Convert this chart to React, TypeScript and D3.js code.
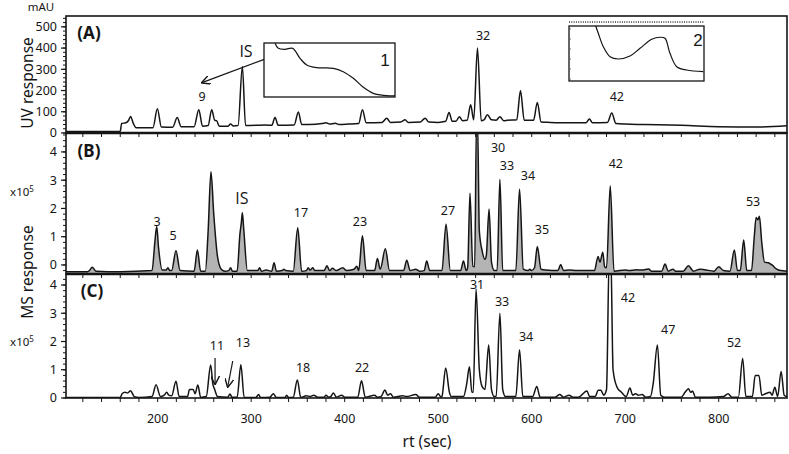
import React from 'react';
import * as d3 from 'd3';

const W = 789;
const H = 454;
const FONT = "'Noto Sans', 'DejaVu Sans', sans-serif";
const IS_FONT = "'Open Sans', 'DejaVu Sans', sans-serif";

type Pt = [number, number];

// retention time axis
const rtDomain: Pt = [102, 873];
const rtLabels = [200, 300, 400, 500, 600, 700, 800];

const uvTicks = [0, 100, 200, 300, 400, 500];
const msTicks = [0, 1, 2, 3, 4];

// (A) UV trace, mAU
const uvTrace: Pt[] = [
  [102, 7], [160, 8], [161.5, 45], [166, 48], [169, 60], [171, 78], [174, 45], [177, 25], [195, 25],
  [199.7, 114], [204, 28], [216, 27], [221, 73], [225, 30], [239, 30], [244, 110], [248, 32],
  [254, 35], [257.8, 110], [261, 60], [263, 58], [266, 32], [275, 32], [278, 42], [281, 33],
  [286, 35], [290.6, 313], [294, 35], [305, 36], [315, 38], [322, 36], [325.5, 73], [329, 36],
  [346, 38], [350.5, 99], [354, 40], [362, 40], [376, 45], [380, 48], [384, 42], [390, 46], [394, 40],
  [404, 42], [415, 45], [419, 110], [423, 48], [440, 50], [445, 70], [449, 50], [460, 52],
  [464.6, 62], [468, 50], [481, 52], [486, 70], [490, 52], [500, 50], [508, 55], [511.6, 97],
  [515, 55], [519, 55], [522.6, 77], [526, 58], [531, 60], [534.7, 133], [538, 62], [542, 400],
  [546, 58], [549, 62], [552.6, 86], [557, 62], [562, 60], [566, 77], [570, 58], [574, 60],
  [584, 62], [588, 200], [592, 60], [602, 60], [606, 144], [610, 52], [620, 50], [640, 48],
  [658, 48], [661.7, 66], [665, 48], [681, 50], [685.6, 94], [690, 45], [700, 42], [720, 40],
  [760, 36], [800, 30], [840, 28], [873, 34],
];

// (B) MS trace, x10^5
const msBTrace: Pt[] = [
  [102, -0.24], [125, -0.24], [127, -0.2], [130, -0.08], [134, -0.22], [160, -0.24],
  [194, -0.2], [197, 0.8], [199, 1.36], [201, 0.6], [205, -0.18], [209, -0.18], [211, -0.1],
  [213, -0.2], [215, -0.2], [219.6, 0.5], [224, -0.2], [239, -0.22], [242.5, 0.53], [246, -0.22],
  [251, -0.22], [254, 1.2], [257, 3.3], [260, 1.8], [264, 0.3], [268, -0.15], [272, -0.22],
  [276, -0.2], [278, -0.1], [280, -0.22], [285, -0.22], [288, 1.1], [289.5, 1.5], [290.6, 1.85],
  [292, 1.3], [296, -0.2], [307, -0.2], [309, -0.1], [311, -0.22], [316, -0.18], [322, -0.22],
  [324.5, 0.08], [327, -0.22], [333, -0.2], [335, -0.15], [337, -0.2], [345, -0.22], [349.8, 1.32],
  [354, -0.22], [359, -0.2], [361, -0.1], [363, -0.18], [366, -0.1], [368, -0.2], [378, -0.2],
  [381, -0.03], [384, -0.2], [387, -0.12], [391, -0.2], [398, -0.1], [402, -0.2], [410, -0.15],
  [413, -0.05], [415, -0.2], [419, 1.03], [423, -0.2], [432, -0.2], [435, 0.23], [438, -0.15],
  [443.5, 0.57], [448, -0.2], [463, -0.2], [466.4, 0.17], [470, -0.2], [476, -0.15], [480, -0.22],
  [485, -0.2], [487.7, 0.14], [491, -0.2], [504, -0.2], [508.4, 1.44], [513, -0.2], [524, -0.2],
  [527, 0.14], [530, -0.2], [531.5, -0.1], [534, 2.54], [537, -0.05], [539, -0.06], [541, 5.2],
  [542, 5.2], [544, 1.2], [547, 0.5], [550, 0.2], [551.5, 0.35], [554.4, 1.98], [557, 0.1],
  [560, -0.2], [563, -0.2], [566, 3.03], [569, -0.2], [583, -0.2], [587, 2.69], [591, -0.15],
  [596, -0.2], [598, -0.15], [600, -0.2], [603, -0.1], [606, 0.65], [610, -0.15], [615, -0.18],
  [628, -0.2], [631, 0.02], [634, -0.2], [640, -0.18], [648, -0.2], [667, -0.2], [671, 0.3],
  [673, 0.1], [676, 0.45], [678, -0.06], [680, -0.1], [684, 2.8], [688, -0.22], [700, -0.18],
  [704, -0.2], [712, -0.17], [718, -0.18], [725, -0.14], [728, -0.22], [739, -0.22],
  [742.6, 0.03], [746, -0.22], [751, -0.15], [754, -0.22], [762, -0.22], [767.6, -0.03],
  [773, -0.22], [780, -0.15], [785, -0.17], [795, -0.22], [800, -0.06], [805, -0.2], [812, -0.22],
  [816.7, 0.53], [820, -0.2], [823, -0.2], [826.7, 0.88], [830, -0.2], [835, -0.2], [838, 1.0],
  [840, 1.68], [842, 1.6], [843.5, 1.72], [846, 0.8], [849, 0.1], [853, 0.08], [857, 0],
  [862, -0.15], [866, -0.2], [873, -0.22],
];

// (C) MS trace, x10^5
const msCTrace: Pt[] = [
  [102, 0.02], [160, 0.02], [162, 0.15], [165, 0.2], [168, 0.18], [171, 0.26], [175, 0.05],
  [180, 0.02], [194, 0.05], [198.3, 0.47], [203, 0.05], [207, 0.1], [209.7, 0.2], [212, 0.1],
  [215, 0.08], [219.6, 0.59], [223, 0.05], [232, 0.05], [234, 0.3], [238, 0.3], [240, 0.15],
  [243, 0.46], [246, 0.02], [252, 0.05], [256.7, 1.17], [259, 0.5], [261, 0.3], [264, 0.05],
  [275, 0.03], [277.4, 0.14], [279.5, 0.03], [285, 0.03], [289, 1.18], [292.5, 0.02], [305, 0.02],
  [308, 0.12], [310, 0.02], [320, 0.03], [323.7, 0.15], [327, 0.02], [336, 0.02], [338, 0.1],
  [340, 0.02], [345, 0.03], [349.4, 0.64], [353, 0.02], [359, 0.08], [363, 0.05], [367, 0.1],
  [371, 0.03], [378, 0.03], [380, 0.1], [383, 0.03], [385, 0.05], [388, 0.18], [391, 0.03],
  [397, 0.1], [400, 0.03], [414, 0.03], [418, 0.61], [422, 0.03], [432, 0.1], [435, 0.03],
  [439, 0.05], [443, 0.28], [446, 0.1], [449, 0.15], [452, 0.03], [462, 0.08], [466, 0.05],
  [476, 0.12], [480, 0.03], [497, 0.03], [500, 0.15], [503, 0.03], [504, 0.05], [508, 1.06],
  [512, 0.2], [514, 0.05], [527, 0.05], [530.5, 0.5], [533.4, 1.11], [536, 0.2], [537.5, 0.2],
  [540.5, 3.86], [544, 1.0], [547, 0.4], [550, 0.3], [554, 1.88], [557, 0.3], [560, 0.05],
  [562, 0.05], [566, 3.0], [569, 0.3], [572, 0.05], [583, 0.05], [587, 1.71], [590.5, 0.05],
  [601, 0.05], [605.4, 0.41], [609, 0.03], [625, 0.03], [630, 0.12], [634, 0.03], [640, 0.1],
  [644, 0.03], [650, 0.03], [659, 0.25], [662, 0.05], [668, 0.05], [671, 0.27], [674, 0.27],
  [677, 0.1], [680, 0.3], [683, 5.2], [684.5, 5.2], [687, 1.0], [691, 0.4], [696, 0.2],
  [701, 0.05], [705, 0.35], [708, 0.1], [711, 0.15], [714, 0.1], [718, 0.12], [722, 0.03],
  [727, 0.05], [730, 0.53], [734.4, 1.88], [738, 0.1], [742, 0.03], [760, 0.03], [764, 0.2],
  [767.6, 0.33], [770, 0.2], [772, 0.25], [775, 0.03], [790, 0.03], [805, 0.05], [810, 0.15],
  [814, 0.03], [821, 0.03], [825.6, 1.4], [829, 0.05], [836, 0.05], [839, 0.8], [843, 0.8],
  [846, 0.1], [850, 0.15], [855, 0.2], [857, 0.1], [860, 0.38], [863, 0.05], [866.7, 0.94],
  [870, 0.1], [873, 0.05],
];

// peak labels: [text, rt, value]
const uvLabels: [string, number, number][] = [
  ['9', 247.5, 171], ['32', 548, 458], ['42', 691, 171],
];
const msBLabels: [string, number, number][] = [
  ['3', 199.3, 1.52], ['5', 216.4, 1.03], ['17', 353.3, 1.84], ['23', 416.4, 1.52],
  ['27', 510.5, 1.91], ['30', 564, 4.14], ['33', 573.6, 3.5], ['34', 596, 3.15],
  ['35', 611, 1.24], ['42', 690, 3.58], ['53', 836.7, 2.23],
];
const msCLabels: [string, number, number][] = [
  ['11', 263.5, 1.84], ['13', 291.3, 1.95], ['18', 355.5, 1.06], ['22', 418.6, 1.06],
  ['31', 541.6, 4.0], ['33', 568.3, 3.4], ['34', 594, 2.16], ['42', 703, 3.54],
  ['47', 746, 2.41], ['52', 816.4, 1.95],
];

// UV spectra in the insets, normalised [wavelength fraction, absorbance fraction]
const spectrum1: Pt[] = [
  [0.084, 0.994], [0.109, 0.901], [0.16, 0.883], [0.219, 0.901], [0.275, 0.716], [0.326, 0.593],
  [0.402, 0.543], [0.529, 0.531], [0.605, 0.469], [0.682, 0.346], [0.758, 0.18], [0.834, 0.068],
  [0.937, 0.024], [1.0, 0.02],
];
const spectrum2: Pt[] = [
  [0.198, 1.0], [0.217, 0.867], [0.254, 0.624], [0.304, 0.442], [0.365, 0.4], [0.452, 0.455],
  [0.526, 0.594], [0.613, 0.758], [0.674, 0.795], [0.711, 0.776], [0.748, 0.503], [0.798, 0.26],
  [0.872, 0.2], [0.995, 0.169],
];

const L = 66, R = 787;

export default function App() {
  const x = d3.scaleLinear().domain(rtDomain).range([L, R]);
  const yA = d3.scaleLinear().domain([0, 551]).range([133, 16]);
  const yB = d3.scaleLinear().domain([-0.32, 4.67]).range([274, 133]);
  const yC = d3.scaleLinear().domain([0, 4.39]).range([398, 274]);

  const minorX = d3.range(120, 873, 20);

  const panels = [
    { id: 'A', y: yA, top: 16, bottom: 133, ticks: uvTicks, minor: d3.range(0, 551, 20), data: uvTrace, labels: uvLabels, fill: false },
    { id: 'B', y: yB, top: 133, bottom: 274, ticks: msTicks, minor: d3.range(-0.2, 4.67, 0.2), data: msBTrace, labels: msBLabels, fill: true },
    { id: 'C', y: yC, top: 274, bottom: 398, ticks: msTicks, minor: d3.range(0, 4.39, 0.2), data: msCTrace, labels: msCLabels, fill: false },
  ];

  const inset1 = { x0: 264, x1: 395, y0: 43, y1: 97 };
  const inset2 = { x0: 569, x1: 704, y0: 26, y1: 81 };
  const insetPath = (b: typeof inset1, s: Pt[]) => {
    const sx = d3.scaleLinear().domain([0, 1]).range([b.x0, b.x1]);
    const sy = d3.scaleLinear().domain([0, 1]).range([b.y1, b.y0]);
    return d3.line<Pt>().x(d => sx(d[0])).y(d => sy(d[1])).curve(d3.curveCatmullRom)(s) || '';
  };

  const ink = '#151515';

  return (
    <svg width={W} height={H} style={{ position: 'absolute', left: 0, top: 0, background: '#fff' }} fontFamily={FONT}>
      <defs>
        {panels.map(p => (
          <clipPath id={'clip' + p.id} key={p.id}>
            <rect x={L} y={p.top} width={R - L} height={p.bottom - p.top} />
          </clipPath>
        ))}
        <marker id="arrow" viewBox="0 0 10 10" refX="9" refY="5" markerWidth="9" markerHeight="9" orient="auto-start-reverse" markerUnits="userSpaceOnUse">
          <path d="M0,0 L10,5 L0,10" fill="none" stroke={ink} strokeWidth={1.6} />
        </marker>
      </defs>

      {panels.map(p => {
        const line = d3.line<Pt>().x(d => x(d[0])).y(d => p.y(d[1])).curve(d3.curveMonotoneX);
        const area = d3.area<Pt>().x(d => x(d[0])).y0(p.bottom).y1(d => p.y(d[1])).curve(d3.curveMonotoneX);
        return (
          <g key={p.id}>
            <g clipPath={`url(#clip${p.id})`}>
              {p.fill && <path d={area(p.data) || ''} fill="#b4b4b4" />}
              <path d={line(p.data) || ''} fill="none" stroke={ink} strokeWidth={1.5} strokeLinejoin="round" />
            </g>
            {/* y ticks */}
            {p.minor.map((v, i) => (
              <line key={'m' + i} x1={L - 3} x2={L} y1={p.y(v)} y2={p.y(v)} stroke={ink} strokeWidth={1} />
            ))}
            {p.ticks.map(v => (
              <g key={v}>
                <line x1={L - 5} x2={L} y1={p.y(v)} y2={p.y(v)} stroke={ink} strokeWidth={1.2} />
                <text x={L - 9} y={p.y(v)} dy="0.35em" textAnchor="end" fontSize={12.5} fill={ink}>{v}</text>
              </g>
            ))}
            {/* x ticks at the bottom of each panel */}
            {minorX.map(v => (
              <line key={'x' + v} x1={x(v)} x2={x(v)} y1={p.bottom} y2={p.bottom + 4} stroke={ink} strokeWidth={1} />
            ))}
            <rect x={L} y={p.top} width={R - L} height={p.bottom - p.top} fill="none" stroke={ink} strokeWidth={1.6} />
            {p.labels.map(([t, rt, v], i) => (
              <text key={'l' + i} x={x(rt)} y={p.y(v)} dy="0.35em" textAnchor="middle" fontSize={12.5} fill={ink}>{t}</text>
            ))}
            <text x={p.id === 'C' ? 92 : 89} y={p.id === 'A' ? 33 : p.id === 'B' ? 151 : 291} dy="0.36em" textAnchor="middle" fontSize={17} fontWeight="bold" fill={ink}>({p.id})</text>
          </g>
        );
      })}

      {/* thicker borders between panels */}
      <line x1={L} x2={R} y1={133} y2={133} stroke={ink} strokeWidth={2.6} />
      <line x1={L} x2={R} y1={274} y2={274} stroke={ink} strokeWidth={2.6} />

      {/* IS labels */}
      <text x={x(294.5)} y={yA(382)} dy="0.35em" textAnchor="middle" fontSize={16} fontFamily={IS_FONT} fill={ink}>IS</text>
      <text x={x(290.2)} y={yB(2.34)} dy="0.35em" textAnchor="middle" fontSize={16} fontFamily={IS_FONT} fill={ink}>IS</text>

      {/* arrows */}
      <line x1={x(314.8)} y1={yA(348)} x2={x(247.5)} y2={yA(237)} stroke={ink} strokeWidth={1.2} markerEnd="url(#arrow)" />
      <line x1={x(261.4)} y1={yC(1.42)} x2={x(261.4)} y2={yC(0.5)} stroke={ink} strokeWidth={1.2} markerEnd="url(#arrow)" />
      <line x1={x(280.3)} y1={yC(1.31)} x2={x(275)} y2={yC(0.4)} stroke={ink} strokeWidth={1.2} markerEnd="url(#arrow)" />

      {/* insets with UV spectra */}
      <rect x={inset1.x0} y={inset1.y0} width={inset1.x1 - inset1.x0} height={inset1.y1 - inset1.y0} fill="#fff" stroke={ink} strokeWidth={1.3} />
      <path d={insetPath(inset1, spectrum1)} fill="none" stroke={ink} strokeWidth={1.2} />
      <text x={385} y={60} dy="0.35em" textAnchor="middle" fontSize={17} fill={ink} fontFamily="'Liberation Sans Narrow', 'Liberation Sans', sans-serif">1</text>

      <line x1={inset2.x0} x2={inset2.x1} y1={22} y2={22} stroke="#333" strokeWidth={1.6} strokeDasharray="1 1.3" />
      <rect x={inset2.x0} y={inset2.y0} width={inset2.x1 - inset2.x0} height={inset2.y1 - inset2.y0} fill="#fff" stroke={ink} strokeWidth={1.3} />
      {d3.range(0, 6).map(i => (
        <line key={'it' + i} x1={inset2.x0} x2={inset2.x0 + 2} y1={inset2.y0 + 3 + i * 10} y2={inset2.y0 + 3 + i * 10} stroke="#555" strokeWidth={0.8} />
      ))}
      <path d={insetPath(inset2, spectrum2)} fill="none" stroke={ink} strokeWidth={1.2} />
      <text x={698} y={40} dy="0.35em" textAnchor="middle" fontSize={17} fill={ink} fontFamily="'Liberation Sans Narrow', 'Liberation Sans', sans-serif">2</text>

      {/* x axis labels */}
      {rtLabels.map(v => (
        <text key={v} x={x(v)} y={419} dy="0.35em" textAnchor="middle" fontSize={12.5} fill={ink}>{v}</text>
      ))}
      <text x={427} y={442} dy="0.35em" textAnchor="middle" fontSize={15.5} fill={ink}>rt (sec)</text>

      {/* y axis titles */}
      <text transform="translate(28,83) rotate(-90)" dy="0.35em" textAnchor="middle" fontSize={15.5} fill={ink}>UV response</text>
      <text transform="translate(28,272) rotate(-90)" dy="0.35em" textAnchor="middle" fontSize={15.5} fill={ink}>MS response</text>
      <text x={41} y={7} dy="0.35em" textAnchor="middle" fontSize={11.5} fill={ink}>mAU</text>
      <text x={22} y={192} dy="0.35em" textAnchor="middle" fontSize={11.5} fill={ink}>x10<tspan dy="-0.45em" fontSize={8}>5</tspan></text>
      <text x={22} y={342} dy="0.35em" textAnchor="middle" fontSize={11.5} fill={ink}>x10<tspan dy="-0.45em" fontSize={8}>5</tspan></text>
    </svg>
  );
}
